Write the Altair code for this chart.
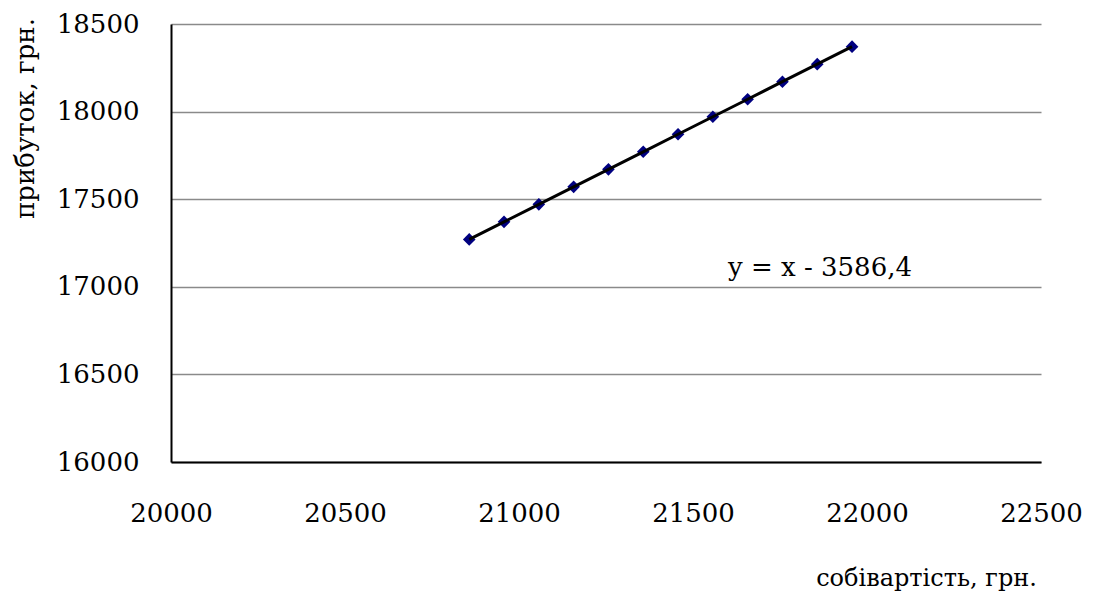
import altair as alt
import pandas as pd

# data
cost = [20857, 20957, 21057, 21157, 21257, 21357, 21457, 21557, 21657, 21757, 21857, 21957]
profit = [17270.6, 17370.6, 17470.6, 17570.6, 17670.6, 17770.6, 17870.6, 17970.6,
          18070.6, 18170.6, 18270.6, 18370.6]
x_ticks = [20000, 20500, 21000, 21500, 22000, 22500]
y_ticks = [16000, 16500, 17000, 17500, 18000, 18500]
equation = ["y = x - 3586,4"]
eq_pos_x = [21865]
eq_pos_y = [17107]

df = pd.DataFrame({"x": cost, "y": profit})
eq_df = pd.DataFrame({"x": eq_pos_x, "y": eq_pos_y, "t": equation})

FONT = "DejaVu Serif"

xscale = alt.Scale(domain=[20000, 22500], nice=False, zero=False)
yscale = alt.Scale(domain=[16000, 18500], nice=False, zero=False)

xaxis = alt.Axis(
    values=x_ticks, format="d", title="собівартість, грн.",
    grid=False, ticks=False, domainColor="black", domainWidth=2,
    labelFont=FONT, labelFontSize=26, labelColor="black", labelPadding=38,
    labelFlush=False, labelOverlap=False,
    titleFont=FONT, titleFontSize=24, titleFontWeight="normal", titleColor="black",
    titleX=755, titleY=116, titleAlign="center", titleBaseline="middle",
)
yaxis = alt.Axis(
    values=y_ticks, format="d", title="прибуток, грн.",
    grid=True, gridColor="#8a8a8a", gridWidth=1.5, ticks=False,
    domainColor="black", domainWidth=2,
    labelFont=FONT, labelFontSize=26, labelColor="black", labelPadding=32,
    labelFlush=False, labelOverlap=False,
    titleFont=FONT, titleFontSize=26, titleFontWeight="normal", titleColor="black",
    titleAngle=270, titleX=-146, titleY=94, titleAlign="center", titleBaseline="middle",
)

base = alt.Chart(df)

line = base.mark_line(color="black", strokeWidth=3).encode(
    x=alt.X("x:Q", scale=xscale, axis=xaxis),
    y=alt.Y("y:Q", scale=yscale, axis=yaxis),
)
points = base.mark_point(shape="diamond", filled=True, color="#000080", size=160, opacity=1).encode(
    x=alt.X("x:Q", scale=xscale),
    y=alt.Y("y:Q", scale=yscale),
)
text = alt.Chart(eq_df).mark_text(font=FONT, fontSize=26, color="black", align="center", baseline="middle").encode(
    x=alt.X("x:Q", scale=xscale),
    y=alt.Y("y:Q", scale=yscale),
    text="t:N",
)

chart = alt.layer(points, line, text).properties(
    width=870, height=438,
    autosize=alt.AutoSizeParams(type="none"),
    padding={"left": 171, "top": 24, "right": 53, "bottom": 146},
    background="white",
).configure(font=FONT).configure_view(stroke=None)

chart.save("out.html", embed_options={"renderer": "svg", "actions": False})
